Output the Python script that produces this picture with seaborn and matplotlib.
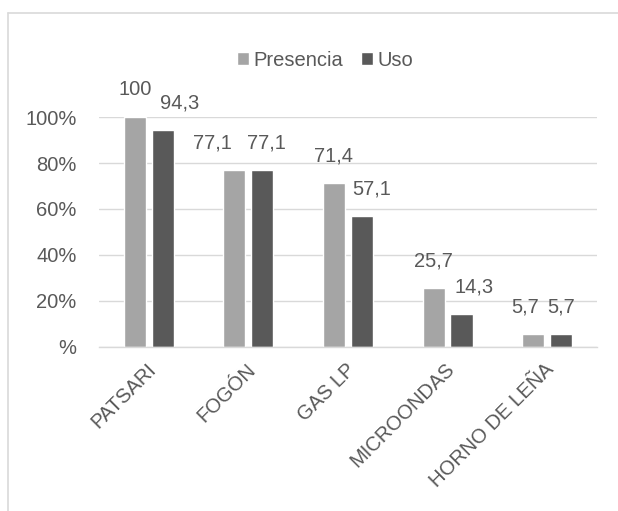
import pandas as pd
import numpy as np
import matplotlib
matplotlib.use('Agg')
import matplotlib.pyplot as plt
import matplotlib.transforms as mtransforms
from matplotlib.lines import Line2D
import seaborn as sns

# data
categorias = ['PATSARI', 'FOGÓN', 'GAS LP', 'MICROONDAS', 'HORNO DE LEÑA']
presencia = [100, 77.1, 71.4, 25.7, 5.7]
uso = [94.3, 77.1, 57.1, 14.3, 5.7]
series = ['Presencia', 'Uso']
etiquetas_y = ['%', '20%', '40%', '60%', '80%', '100%']

# small horizontal nudges of the value labels (points), as in the original
nudge_presencia = [0, -16, 0, 0, -6]
nudge_uso = [12, 3, 7, 9, 0]

df = pd.DataFrame({
    'categoria': categorias * 2,
    'valor': presencia + uso,
    'serie': [series[0]] * len(categorias) + [series[1]] * len(categorias),
})

sns.set_style('white')
plt.rcParams['font.family'] = ['Liberation Sans', 'DejaVu Sans']
txt = '#595959'
grid = '#D9D9D9'
fs = 14.5

fig = plt.figure(figsize=(6.18, 5.11), dpi=100)
ax = fig.add_axes([0.160, 0.321, 0.806, 0.450])

sns.barplot(data=df, x='categoria', y='valor', hue='serie',
            palette=['#A5A5A5', '#595959'], width=0.56, gap=0.21,
            saturation=1, ax=ax, legend=True)

ax.set_ylim(0, 100)
ax.set_xlim(-0.5, 4.5)
ax.set_yticks(np.arange(0, 101, 20))
ax.set_yticklabels(etiquetas_y, color=txt, fontsize=fs)
ax.tick_params(axis='y', length=0, pad=16)
ax.tick_params(axis='x', length=0, pad=14)
ax.set_xticks(range(len(categorias)))
ax.set_xticklabels(categorias, rotation=45, ha='right', va='center',
                   rotation_mode='anchor', color=txt, fontsize=fs)
shift = mtransforms.ScaledTranslation(3 / 72, 0, fig.dpi_scale_trans)
for lab in ax.get_xticklabels():
    lab.set_transform(lab.get_transform() + shift)

ax.set_xlabel('')
ax.set_ylabel('')
ax.yaxis.grid(True, color=grid, lw=1)
ax.set_axisbelow(True)
for s in ['top', 'right', 'left']:
    ax.spines[s].set_visible(False)
ax.spines['bottom'].set_color(grid)
ax.spines['bottom'].set_linewidth(1)

# value labels
for cont, vals, nudges in zip(ax.containers, [presencia, uso], [nudge_presencia, nudge_uso]):
    for bar, v, dx in zip(cont, vals, nudges):
        s = ('%g' % v).replace('.', ',')
        ax.annotate(s, (bar.get_x() + bar.get_width() / 2, bar.get_height()),
                    xytext=(dx, 19.5), textcoords='offset points',
                    ha='center', va='center', fontsize=fs, color=txt,
                    annotation_clip=False)

handles, labels = ax.get_legend_handles_labels()
ax.legend(handles, labels, loc='center', bbox_to_anchor=(325 / 618, 1 - 60 / 511),
          bbox_transform=fig.transFigure, ncol=2, frameon=False, fontsize=fs,
          handlelength=0.6, handleheight=0.6, handletextpad=0.2,
          columnspacing=0.9, labelcolor=txt)

# chart frame (cut off on the right and bottom in the original)
x0, y0 = 8 / 618, 1 - 12.7 / 511
fig.add_artist(Line2D([x0, x0], [-0.1, y0], transform=fig.transFigure, color=grid, lw=1.2))
fig.add_artist(Line2D([x0, 1.1], [y0, y0], transform=fig.transFigure, color=grid, lw=1.2))

fig.savefig('out.png', dpi=100)
